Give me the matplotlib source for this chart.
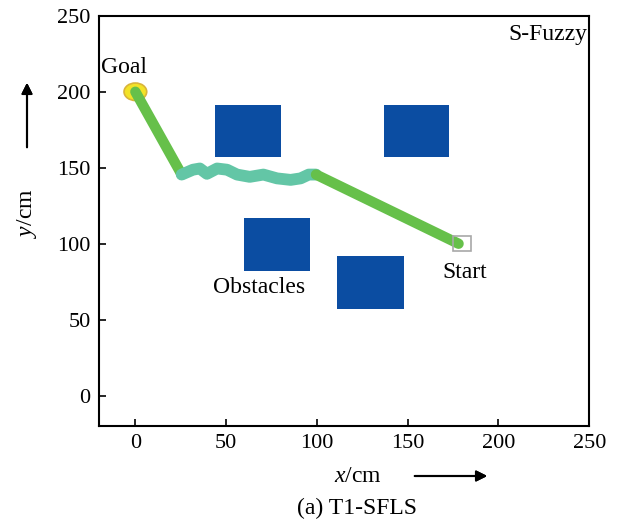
import numpy as np
import matplotlib.pyplot as plt
from matplotlib.patches import Rectangle, Ellipse

plt.rcParams['font.family'] = ['Liberation Serif', 'DejaVu Serif']
plt.rcParams['mathtext.fontset'] = 'custom'
plt.rcParams['mathtext.rm'] = 'Liberation Serif'
plt.rcParams['mathtext.it'] = 'Liberation Serif:italic'

# obstacles: (x0, y0, width, height) in cm
obs_x = [44, 137, 60, 111]
obs_y = [157, 157, 82, 57]
obs_w = [36, 36, 36, 37]
obs_h = [34, 34, 35, 35]

# path segments
seg1_x = [0, 25.5]
seg1_y = [200, 145.5]
wavy_x = [25.5, 31.7, 35.5, 39.4, 45, 50.5, 56, 63, 70.5, 78, 85.5, 91, 95.5, 99.5]
wavy_y = [145.5, 148.7, 149.5, 146, 149.5, 148.7, 145.5, 144, 145.5, 143, 142, 143, 145.5, 145.5]
seg2_x = [99.5, 178]
seg2_y = [145.5, 100]

goal = (0, 200)
start = (180, 100)

xticks = [0, 50, 100, 150, 200, 250]
yticks = [0, 50, 100, 150, 200, 250]

fig = plt.figure(figsize=(6.35, 5.26), dpi=100)
ax = fig.add_axes([0.156, 0.190, 0.772, 0.780])

for x0, y0, w, h in zip(obs_x, obs_y, obs_w, obs_h):
    ax.add_patch(Rectangle((x0, y0), w, h, facecolor='#0b4da2', edgecolor='none', zorder=2))

ax.plot(seg1_x, seg1_y, color='#66c04a', lw=7.5, solid_capstyle='round', zorder=3)
ax.plot(wavy_x, wavy_y, color='#63c6a6', lw=8.5, solid_capstyle='round', solid_joinstyle='round', zorder=3)
ax.plot(seg2_x, seg2_y, color='#66c04a', lw=7.5, solid_capstyle='round', zorder=3)

ax.add_patch(Ellipse(goal, 12.5, 11.5, facecolor='#f2e227', edgecolor='#d9b43a', lw=1.2, zorder=2))
ax.add_patch(Rectangle((start[0] - 5, start[1] - 5), 10, 10, facecolor='none', edgecolor='#a8a8a8', lw=1.2, zorder=4))

ax.text(-6, 216, 'Goal', fontsize=17, ha='center', va='center')
ax.text(181.5, 81, 'Start', fontsize=17, ha='center', va='center')
ax.text(68, 71, 'Obstacles', fontsize=17, ha='center', va='center')
ax.text(227, 238, 'S-Fuzzy', fontsize=17, ha='center', va='center')

ax.set_xlim(-20, 250)
ax.set_ylim(-20, 250)
ax.set_xticks(xticks)
ax.set_yticks(yticks)
ax.tick_params(direction='in', length=5, width=1.2, labelsize=16, pad=6, top=False, right=False)
for s in ax.spines.values():
    s.set_linewidth(1.5)

# axis labels with arrows, placed in figure coordinates
fig.text(358 / 635, 1 - 477 / 526, '$x$/cm', fontsize=17, ha='center', va='center')
fig.text(27 / 635, 1 - 213 / 526, '$y$/cm', fontsize=17, ha='center', va='center', rotation=90)
fig.text(357 / 635, 1 - 508 / 526, '(a) T1-SFLS', fontsize=17, ha='center', va='center')
fig.add_artist(plt.annotate('', xy=(490 / 635, 1 - 476 / 526), xytext=(412 / 635, 1 - 476 / 526),
                            xycoords='figure fraction', textcoords='figure fraction',
                            arrowprops=dict(arrowstyle='-|>', color='black', lw=1.5, mutation_scale=16)))
fig.add_artist(plt.annotate('', xy=(27 / 635, 1 - 80 / 526), xytext=(27 / 635, 1 - 150 / 526),
                            xycoords='figure fraction', textcoords='figure fraction',
                            arrowprops=dict(arrowstyle='-|>', color='black', lw=1.5, mutation_scale=16)))

fig.savefig('out.png', dpi=100)
